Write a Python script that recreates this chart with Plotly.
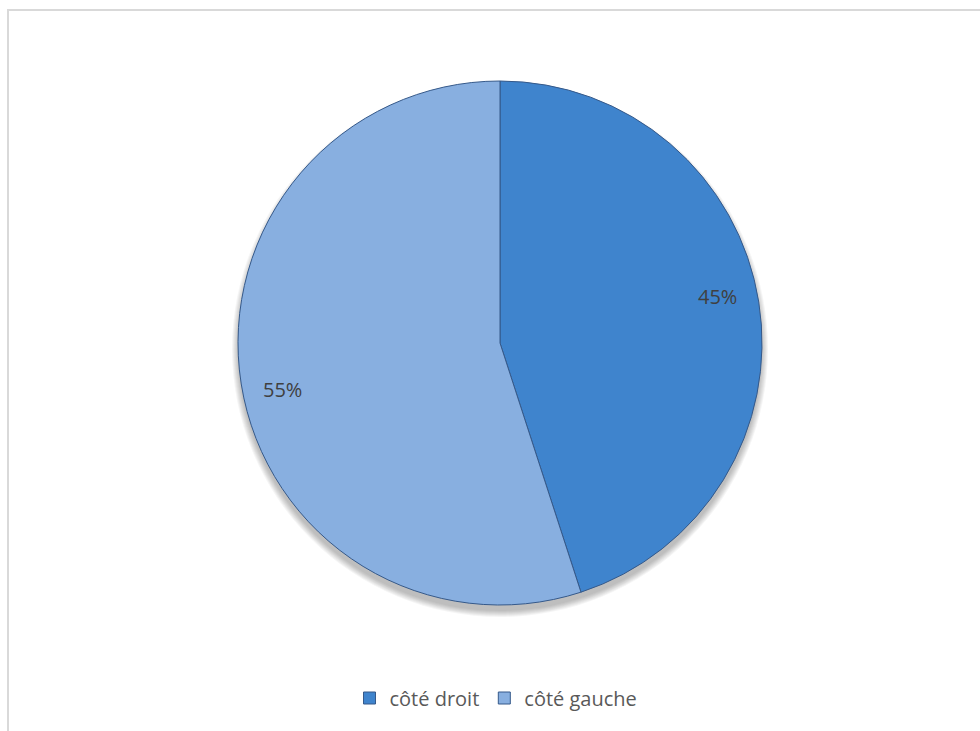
import math
import plotly.graph_objects as go

# Pie data
labels = ["côté droit", "côté gauche"]
values = [45, 55]
colors = ["#3f84cd", "#88afe0"]

W, H = 980, 731
CX, CY, R = 500, 343, 262          # pie centre and radius in pixels
LABEL_R = 0.85                      # radial position of the percentage labels
LABEL_SHIFT = -3                    # small angular nudge of the labels (deg)


def px(x):
    return x / W


def py(y):
    return 1 - y / H


fig = go.Figure()

fig.add_trace(go.Pie(
    labels=labels,
    values=values,
    sort=False,
    direction="clockwise",
    rotation=0,
    marker=dict(colors=colors, line=dict(color="#35598a", width=1)),
    textinfo="none",
    hoverinfo="label+percent",
    domain=dict(x=[px(CX - R), px(CX + R)], y=[py(CY + R), py(CY - R)]),
))

# Percentage labels placed near the outer edge of each slice
total = sum(values)
annotations = []
cum = 0
for v in values:
    mid = (cum + v / 2) / total * 360 + LABEL_SHIFT
    cum += v
    a = math.radians(mid)
    lx = CX + LABEL_R * R * math.sin(a)
    ly = CY - LABEL_R * R * math.cos(a)
    annotations.append(dict(
        x=px(lx), y=py(ly), xref="paper", yref="paper",
        text=f"{round(v / total * 100)}%", showarrow=False,
        font=dict(family="Open Sans", size=20, color="#404040"),
        xanchor="center", yanchor="middle",
    ))

# Soft drop shadow under the pie, plus the chart frame
shapes = []
for k in range(7):
    rr = R + k
    cy = CY + 6
    shapes.append(dict(
        type="circle", xref="paper", yref="paper", layer="below",
        x0=px(CX - rr), x1=px(CX + rr), y0=py(cy + rr), y1=py(cy - rr),
        fillcolor="rgba(0,0,0,0.04)", line=dict(width=0),
    ))
shapes.append(dict(
    type="rect", xref="paper", yref="paper", layer="below",
    x0=px(8), x1=1.02, y0=-0.02, y1=py(10),
    line=dict(color="#d9d9d9", width=2), fillcolor="rgba(0,0,0,0)",
))

fig.update_layout(
    width=W, height=H,
    margin=dict(l=0, r=0, t=0, b=0),
    paper_bgcolor="white",
    plot_bgcolor="white",
    font=dict(family="Open Sans", size=20, color="#595959"),
    showlegend=True,
    legend=dict(
        orientation="h", x=px(496), xanchor="center",
        y=py(698), yanchor="middle",
        font=dict(family="Open Sans", size=20, color="#595959"),
        itemclick=False,
    ),
    annotations=annotations,
    shapes=shapes,
)

fig.write_html("out.html")
